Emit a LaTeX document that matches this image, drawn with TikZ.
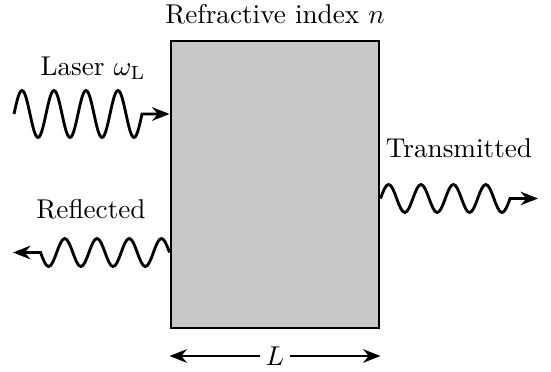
\documentclass[tikz,border=0pt]{standalone}
\usetikzlibrary{arrows.meta}
\definecolor{boxgray}{RGB}{200,200,200}
\tikzset{
  wave/.style={line width=1.05pt,-{Stealth[length=6.4pt,width=5pt]}},
  dimarrow/.style={line width=0.8pt,-{Stealth[length=6.4pt,width=5pt]}},
  lbl/.style={inner sep=0pt}
}
\begin{document}
\begin{tikzpicture}[x=0.3676pt,y=-0.3676pt]
\useasboundingbox (0,0) rectangle (551,371);
\node[draw,line width=1.05pt,fill=boxgray,minimum width=76.5pt,minimum height=105.5pt,inner sep=0pt] (box) at (275,184.5) {};
\node[lbl] (title) at (275,14.5) {Refractive index $n$};
\node[lbl] (laser) at (93,68) {Laser $\omega_{\mathrm{L}}$};
\node[lbl] (refl) at (91,209) {Reflected};
\node[lbl] (trans) at (459,148) {Transmitted};
\coordinate (ls) at (14,114);
\coordinate (re) at (13,252.5);
\coordinate (te) at (538,198.5);
% Laser (incoming)
\draw[wave] (ls)
  \foreach \i in {1,...,4} { sin ++(8,-23.5) cos ++(8,23.5) sin ++(8,23.5) cos ++(8,-23.5) }
  -- (box.west |- ls);
% Reflected
\draw[wave] (box.west |- re)
  \foreach \i in {1,...,4} { sin ++(-8.06,-14) cos ++(-8.06,14) sin ++(-8.06,14) cos ++(-8.06,-14) }
  -- (re);
% Transmitted
\draw[wave] (box.east |- te)
  \foreach \i in {1,...,4} { sin ++(8.1,-14) cos ++(8.1,14) sin ++(8.1,14) cos ++(8.1,-14) }
  -- (te);
\node[lbl,fill=white,inner xsep=2pt] (L) at (275,356) {$L$};
\coordinate (La) at (box.west |- L);
\coordinate (Lb) at (box.east |- L);
\draw[dimarrow] (L) -- (La);
\draw[dimarrow] (L) -- (Lb);
\end{tikzpicture}
\end{document}
